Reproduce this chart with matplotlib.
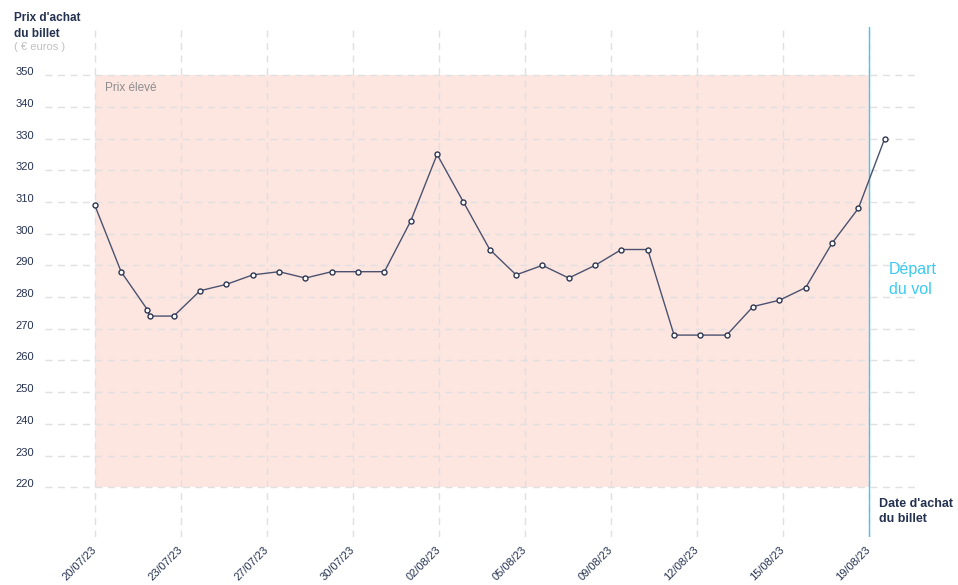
import matplotlib
matplotlib.use("Agg")
import matplotlib.pyplot as plt
import numpy as np

# purchase day, counted in days from 20/07/23 (two prices read on 22/07)
days = [0, 1, 2, 2.08, 3, 4, 5, 6, 7, 8, 9, 10, 11, 12, 13, 14, 15, 16,
        17, 18, 19, 20, 21, 22, 23, 24, 25, 26, 27, 28, 29, 30]
prices = [309, 288, 276, 274, 274, 282, 284, 287, 288, 286, 288, 288, 288,
          304, 325, 310, 295, 287, 290, 286, 290, 295, 295, 268, 268, 268,
          277, 279, 283, 297, 308, 330]
tick_labels = ["20/07/23", "23/07/23", "27/07/23", "30/07/23", "02/08/23",
               "05/08/23", "09/08/23", "12/08/23", "15/08/23", "19/08/23"]
departure_day = 29.4
high_low, high_top = 220, 350

NAVY = "#243150"
CYAN = "#3cc9f2"

plt.rcParams["font.family"] = ["Liberation Sans", "DejaVu Sans"]

fig = plt.figure(figsize=(9.58, 5.85), dpi=100)
ax = fig.add_axes([45 / 958, 48 / 585, 875 / 958, 510 / 585])

ax.fill_between([0, departure_day], high_low, high_top, color="#fde6e0",
                linewidth=0, zorder=0)
ax.axvline(departure_day, color=CYAN, linewidth=1, zorder=3)
ax.plot(days, prices, color="#4b5270", linewidth=1, marker="o",
        markersize=3.6, markerfacecolor="white", markeredgecolor="#2d3750",
        markeredgewidth=1, zorder=4)

ax.set_xlim(-1.89, 31.34)
ax.set_ylim(204.3, 365.2)
ax.set_yticks(range(220, 351, 10))
ax.set_xticks(np.linspace(0, departure_day, len(tick_labels)))
ax.set_xticklabels(tick_labels, rotation=45, ha="right", va="center",
                   rotation_mode="anchor")
ax.grid(True, color="#e0e0e0", linestyle=(0, (5, 4)), linewidth=1, zorder=1)
ax.set_axisbelow(True)
for spine in ax.spines.values():
    spine.set_visible(False)
ax.tick_params(length=0, labelsize=8, labelcolor=NAVY)
ax.tick_params(axis="y", pad=8)
ax.tick_params(axis="x", pad=8)
for label in ax.get_yticklabels():
    label.set_va("baseline")

ax.text(0.4, 346, "Prix élevé", color="#8c8c8c", fontsize=8.5, va="center")

fig.text(14 / 958, 1 - 12 / 585, "Prix d'achat\ndu billet", fontsize=8.5,
         fontweight="bold", color=NAVY, va="top", linespacing=1.45)
fig.text(14 / 958, 1 - 47 / 585, "( € euros )", fontsize=8, color="#c0c0c0",
         va="center")
fig.text(889 / 958, 1 - 262 / 585, "Départ\ndu vol", fontsize=11.5,
         color=CYAN, va="top", linespacing=1.45)
fig.text(879 / 958, 1 - 498 / 585, "Date d'achat\ndu billet", fontsize=9,
         fontweight="bold", color=NAVY, va="top", linespacing=1.35)

fig.savefig("out.png", dpi=100)
